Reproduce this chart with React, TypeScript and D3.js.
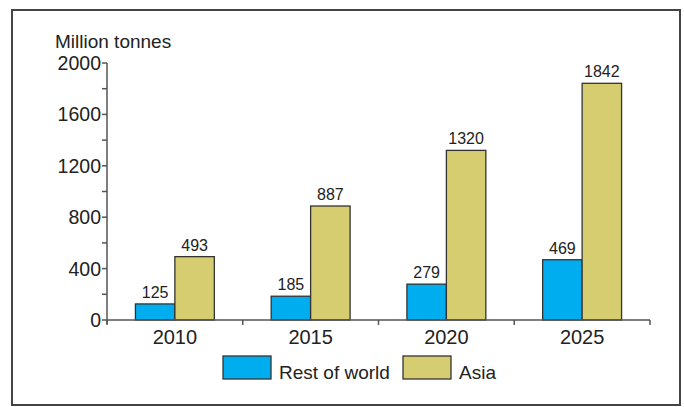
import * as d3 from 'd3'

const W = 684, H = 407
const M = { top: 63, right: 34, bottom: 87, left: 107 }

const years = ['2010', '2015', '2020', '2025']
const seriesNames = ['Rest of world', 'Asia']
const restOfWorld = [125, 185, 279, 469]
const asia = [493, 887, 1320, 1842]
const yTicks = [0, 400, 800, 1200, 1600, 2000]
const yMinorTicks = [200, 600, 1000, 1400, 1800]

const colors = ['#00aeef', '#d6cc70']
const FONT = '"Liberation Sans", Arial, sans-serif'
const INK = '#222'

export default function App() {
  const x = d3.scaleBand<string>().domain(years).range([M.left, W - M.right]).paddingInner(0)
  const xs = d3.scaleBand<string>().domain(seriesNames).range([0, x.bandwidth()]).paddingInner(0).paddingOuter(0.72)
  const y = d3.scaleLinear().domain([0, 2000]).range([H - M.bottom, M.top])
  const values = [restOfWorld, asia]
  const y0 = y(0)

  return (
    <svg width={W} height={H} style={{ position: 'absolute', left: 0, top: 0, background: '#fff' }} fontFamily={FONT}>
      <rect x={12} y={10} width={668} height={395} fill="none" stroke="#444" strokeWidth={2} />

      <text x={55} y={48} fontSize={19} fill={INK}>Million tonnes</text>

      {/* bars */}
      {seriesNames.map((s, si) =>
        years.map((yr, i) => {
          const v = values[si][i]
          const bx = x(yr)! + xs(s)!
          return (
            <g key={s + yr}>
              <rect x={bx} y={y(v)} width={xs.bandwidth()} height={y0 - y(v)}
                fill={colors[si]} stroke="#333" strokeWidth={1.3} />
              <text x={bx + xs.bandwidth() / 2} y={y(v) - 6} textAnchor="middle" fontSize={16} fill={INK}>{v}</text>
            </g>
          )
        })
      )}

      {/* y axis */}
      <line x1={M.left} x2={M.left} y1={y(2000)} y2={y0 + 4} stroke="#555" strokeWidth={1.5} />
      {yTicks.map(t => (
        <g key={t}>
          <line x1={M.left - 5} x2={M.left} y1={y(t)} y2={y(t)} stroke="#555" strokeWidth={1.5} />
          <text x={M.left - 6} y={y(t)} dy="0.36em" textAnchor="end" fontSize={19.5} fill={INK}>{t}</text>
        </g>
      ))}
      {yMinorTicks.map(t => (
        <line key={t} x1={M.left - 5} x2={M.left} y1={y(t)} y2={y(t)} stroke="#555" strokeWidth={1.5} />
      ))}

      {/* x axis */}
      <line x1={M.left} x2={W - M.right} y1={y0} y2={y0} stroke="#555" strokeWidth={1.5} />
      {years.concat(['end']).map((yr, i) => {
        const tx = i < years.length ? x(yr)! : x(years[years.length - 1])! + x.bandwidth()
        return <line key={yr} x1={tx} x2={tx} y1={y0} y2={y0 + 5} stroke="#555" strokeWidth={1.5} />
      })}
      {years.map(yr => (
        <text key={yr} x={x(yr)! + x.bandwidth() / 2} y={344} textAnchor="middle" fontSize={20} fill={INK}>{yr}</text>
      ))}

      {/* legend */}
      {seriesNames.map((s, i) => {
        const lx = [223, 403][i]
        return (
          <g key={s}>
            <rect x={lx} y={356} width={48} height={23} fill={colors[i]} stroke="#333" strokeWidth={1.3} />
            <text x={lx + 56} y={379} fontSize={19} fill={INK}>{s}</text>
          </g>
        )
      })}
    </svg>
  )
}
